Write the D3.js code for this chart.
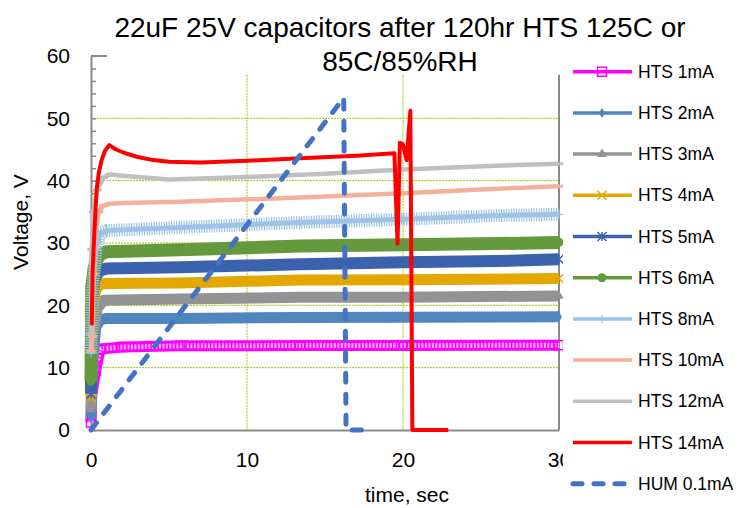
<!DOCTYPE html>
<html>
<head>
<meta charset="utf-8">
<style>
  body { margin: 0; background: #fff; }
  svg text { font-family: "Liberation Sans", Arial, sans-serif; fill: #000; }
  .grid line { stroke: #9c0; stroke-width: 1; stroke-dasharray: 2 1; }
</style>
</head>
<body>
<div id="chart"></div>
<script src="https://d3js.org/d3.v7.min.js"></script>
<script>
// [time sec, voltage V]
var hts1mA = [[0,1.2],[0.05,5.6],[0.3,9.5],[0.45,11.5],[0.6,13.0],[2,13.3],[5.7,13.5],[13.4,13.55],[20,13.55],[30,13.6]];
var hts2mA = [[0,1.9],[0.1,11],[0.3,16.5],[0.6,17.7],[1,17.9],[5.7,17.9],[13.4,18.05],[20,18.1],[30,18.15]];
var hts3mA = [[0,3.3],[0.1,15],[0.4,19.5],[0.8,20.8],[5.7,21.0],[13.4,21.3],[20,21.3],[30,21.5]];
var hts4mA = [[0,5.2],[0.1,19.5],[0.3,22.5],[0.6,23.4],[1,23.5],[5.7,23.6],[13.4,24.05],[20,24.1],[30,24.3]];
var hts5mA = [[0,5.8],[0.05,20.3],[0.2,24],[0.5,25.5],[1,25.9],[5.7,26.1],[13.4,26.6],[20,26.9],[26,27.1],[30,27.4]];
var hts6mA = [[0,7.8],[0.05,23],[0.2,26],[0.5,28],[1,28.6],[5.7,28.9],[13.4,29.5],[20,29.7],[26,29.9],[30,30.1]];
var hts8mA = [[0,12.3],[0.1,22],[0.3,29],[0.6,31.6],[1,32],[5.7,32.5],[13.4,33.3],[20,33.8],[26,34.4],[30,34.6]];
var hts10mA = [[0,12.7],[0.1,15],[0.15,25],[0.25,31],[0.5,35],[0.8,36],[1.2,36.3],[2,36.4],[5.7,36.6],[13.4,37.3],[20,38],[26,38.7],[30,39.1]];
var hts12mA = [[0,15.5],[0.05,29],[0.15,35],[0.4,38.5],[0.8,40.5],[1.2,41],[2,40.8],[5,40.2],[10,40.6],[15,41.1],[20,41.8],[26,42.4],[30,42.7]];
var hts14mA = [[0.05,16.8],[0.1,25],[0.2,31],[0.36,38.5],[0.5,41.3],[0.68,43.3],[0.9,44.8],[1.17,45.7],[1.6,45.0],[2.2,44.4],[3,43.8],[4,43.3],[5,43.05],[7,42.9],[10,43.2],[13.4,43.6],[17,44.0],[19.45,44.4],[19.65,29.9],[19.8,46.1],[20.0,45.8],[20.23,43.3],[20.47,51.2],[20.6,0],[22.9,0]];
var hum01mA = [[0,0],[16.2,53.3],[16.35,0],[17.7,0]];

var seriesNames = ["HTS 1mA","HTS 2mA","HTS 3mA","HTS 4mA","HTS 5mA","HTS 6mA","HTS 8mA","HTS 10mA","HTS 12mA","HTS 14mA","HUM 0.1mA"];
var yTicks = [0,10,20,30,40,50,60];
var xTicks = [0,10,20,30];

var width = 741, height = 508;
var svg = d3.select("#chart").append("svg").attr("width", width).attr("height", height);

var x = d3.scaleLinear().domain([0, 30]).range([91, 559]);
var y = d3.scaleLinear().domain([0, 60]).range([430, 56]);

var styles = [
  {data: hts1mA, color: "#ff00ff", w: 11, marker: "square", over: {color: "#ffb0ff", w: 5, dash: "2 1.5"}},
  {data: hts2mA, color: "#4f86bf", w: 11, marker: "diamond"},
  {data: hts3mA, color: "#939393", w: 11, marker: "triangle"},
  {data: hts4mA, color: "#e3a800", w: 11, marker: "x"},
  {data: hts5mA, color: "#3b63ad", w: 12, marker: "asterisk"},
  {data: hts6mA, color: "#65993d", w: 13, marker: "circle"},
  {data: hts8mA, color: "#9dc3e6", w: 13, marker: "plus", dash: "1.2 1.3", over: {color: "#9dc3e6", w: 5}},
  {data: hts10mA, color: "#f4b09a", w: 4.5, marker: "dash"},
  {data: hts12mA, color: "#c0c0c0", w: 4.5, marker: "dash"},
  {data: hts14mA, color: "#ff0000", w: 4, marker: null},
  {data: hum01mA, color: "#4472c4", w: 5, marker: null, dash: "9 12", cap: "round"}
];

// grid
var grid = svg.append("g").attr("class", "grid");
grid.selectAll(".gy").data([10,20,30,40,50]).enter().append("line")
  .attr("x1", x(0)).attr("x2", x(30)).attr("y1", d => y(d)).attr("y2", d => y(d));
grid.selectAll(".gx").data([10,20]).enter().append("line")
  .attr("x1", d => x(d)).attr("x2", d => x(d)).attr("y1", y(57)).attr("y2", y(0));

// plot border pieces
var axisColor = "#8a8a8a";
svg.append("line").attr("x1", x(30)).attr("x2", x(30)).attr("y1", y(57)).attr("y2", y(0))
  .attr("stroke", axisColor).attr("stroke-width", 2);
svg.append("line").attr("x1", x(0)).attr("x2", x(0) + 16).attr("y1", y(60)).attr("y2", y(60))
  .attr("stroke", axisColor).attr("stroke-width", 2);

// left axis with minor ticks
var yMinor = svg.append("g").attr("transform", "translate(" + x(0) + ",0)")
  .call(d3.axisLeft(y).tickValues(d3.range(0, 61, 2)).tickSize(-5).tickSizeOuter(0).tickFormat(""));
yMinor.select(".domain").attr("stroke", axisColor).attr("stroke-width", 2);
yMinor.selectAll(".tick line").attr("stroke", axisColor).attr("stroke-width", 1.5);

// bottom axis line
var xAx = svg.append("g").attr("transform", "translate(0," + y(0) + ")")
  .call(d3.axisBottom(x).tickValues(xTicks).tickSize(0).tickSizeOuter(0).tickPadding(22));
xAx.select(".domain").attr("stroke", axisColor).attr("stroke-width", 2);
xAx.selectAll("text").style("font-size", "21px");

var yLab = svg.append("g").attr("transform", "translate(" + x(0) + ",0)")
  .call(d3.axisLeft(y).tickValues(yTicks).tickSize(0).tickPadding(21));
yLab.select(".domain").remove();
yLab.selectAll("text").style("font-size", "21px");

// markers
function markerPath(type, s) {
  var h = s / 2;
  if (type === "square") return "M" + (-h) + "," + (-h) + "h" + s + "v" + s + "h" + (-s) + "Z";
  if (type === "diamond") return d3.symbol(d3.symbolDiamond, s * s * 0.38)();
  if (type === "triangle") return d3.symbol(d3.symbolTriangle, s * s * 0.5)();
  if (type === "circle") return d3.symbol(d3.symbolCircle, s * s * 0.8)();
  if (type === "x") return "M" + (-h) + "," + (-h) + "L" + h + "," + h + "M" + (-h) + "," + h + "L" + h + "," + (-h);
  if (type === "asterisk") return "M" + (-h) + "," + (-h) + "L" + h + "," + h + "M" + (-h) + "," + h + "L" + h + "," + (-h) + "M0," + (-h) + "V" + h;
  if (type === "plus") return "M" + (-h) + ",0H" + h + "M0," + (-h) + "V" + h;
  if (type === "dash") return "M" + (-h) + ",0H" + h;
  return "";
}
var filled = {diamond: 1, triangle: 1, circle: 1};
function drawMarker(g, type, color, cx, cy, s) {
  if (!type) return;
  var p = g.append("path").attr("d", markerPath(type, s)).attr("transform", "translate(" + cx + "," + cy + ")");
  if (filled[type]) p.attr("fill", color).attr("stroke", "none");
  else p.attr("fill", "none").attr("stroke", color)
    .attr("stroke-width", type === "dash" ? 3 : (type === "plus" ? 1.2 : 1.5));
}

var line = d3.line().x(d => x(d[0])).y(d => y(d[1]));
var plot = svg.append("g");
styles.forEach(function (st) {
  var g = plot.append("g");
  g.append("path").attr("d", line(st.data)).attr("fill", "none")
    .attr("stroke", st.color).attr("stroke-width", st.w)
    .attr("stroke-linejoin", "round").attr("stroke-linecap", st.cap || "butt")
    .attr("stroke-dasharray", st.dash || null);
  if (st.over) {
    g.append("path").attr("d", line(st.data)).attr("fill", "none")
      .attr("stroke", st.over.color).attr("stroke-width", st.over.w)
      .attr("stroke-linejoin", "round").attr("stroke-dasharray", st.over.dash || null);
  }
  st.data.forEach(function (d) { drawMarker(g, st.marker, st.color, x(d[0]), y(d[1]), 9); });
});

// title
var title = svg.append("text").attr("text-anchor", "middle").style("font-size", "28px");
title.append("tspan").attr("x", 400).attr("y", 37).text("22uF 25V capacitors after 120hr HTS 125C or");
title.append("tspan").attr("x", 400).attr("y", 71).text("85C/85%RH");

svg.append("text").attr("x", 407).attr("y", 502).attr("text-anchor", "middle")
  .style("font-size", "21px").text("time, sec");
svg.append("text").attr("transform", "translate(28,222) rotate(-90)").attr("text-anchor", "middle")
  .style("font-size", "21px").text("Voltage, V");

// legend
var leg = svg.append("g");
leg.append("rect").attr("x", 563).attr("y", 45).attr("width", 178).attr("height", 463).attr("fill", "#fff");
seriesNames.forEach(function (name, i) {
  var st = styles[i];
  var ly = 71.7 + i * 41.2;
  leg.append("line").attr("x1", 573).attr("x2", 632).attr("y1", ly).attr("y2", ly)
    .attr("stroke", st.color).attr("stroke-width", st.cap ? 5 : 3.5)
    .attr("stroke-linecap", st.cap || "butt").attr("stroke-dasharray", st.cap ? st.dash : null);
  if (st.marker && st.marker !== "dash") drawMarker(leg, st.marker, st.color, 602, ly, 9);
  leg.append("text").attr("x", 638).attr("y", ly).attr("dy", "0.35em")
    .style("font-size", "17.5px").text(name);
});
</script>
</body>
</html>
